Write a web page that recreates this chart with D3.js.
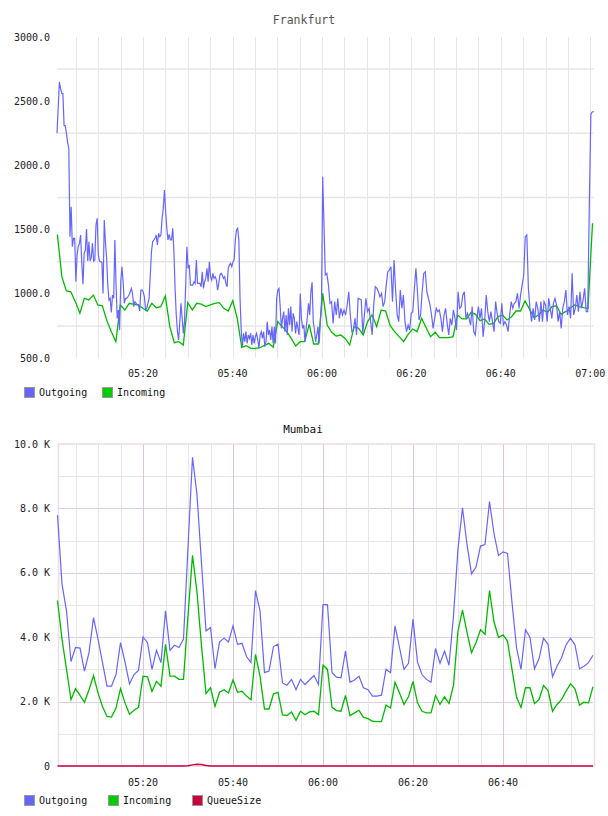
<!DOCTYPE html>
<html>
<head>
<meta charset="utf-8">
<script src="https://cdn.jsdelivr.net/npm/d3@7"></script>
<style>
body { margin: 0; background: #fff; }
text { font-family: "DejaVu Sans Mono", monospace; }
</style>
</head>
<body>
<svg id="chart" width="608" height="816"></svg>
<script>
// ---- data ----
var fraOutFirstHour = [2250,2450,2650,2600,2560,2560,2310,2310,2250,2180,2130,
  1445,1678,1367,1432,1432,1094,1302,1367,1393,1458,1237,1074,1315,1341,1504,1255,1406,1255,1281,1393,
  1255,1263,1536,1588,1302,1255,1250,1245,1003,1575,1406,1281,1068,952,965,855,990,965,1419,1068,
  809,874,718,1094,1211,1094,926,965,965,977,990,1016,1042,996,900,939,926,913,913,866,
  1029,1029,1016,977,874,887,926,965,1146,1328,1406,1419,1432,1458,1380,1471,1445,1458,1588,1666,
  1808,1640,1510,1419,1463,1419,1419,1510,1328,1042,835,705,640,783,926,809,692,783,1081,1367,
  1198,1224,1068,1068,1068,1094,1081,1263,1081,1081,1081,1055,1172,1042,1094,1120,1198,1094,1250,1133,
  1107,1159,1120,1133,1107,1029,1081,1146,1159,1146,1120,1133,1081,1055,1198,1224,1237,1211,1250,1263,
  1419,1497,1510,1419,965,718,588,692,627,705,614,679,653,692,601,679,614,666,692,640,
  575,679,705,653,705,588,627,783,679,718,640,744,614,744,614,965,1029,1042,900,731,
  809,861,705,835,679,887,757,900,705,848,809,692,783,731,679,1003,809,731,757,627,
  731,822,926,835,1016,1089,783,718,627,679,744,614,783,939,1912];
var fraOutSecondHour = [1146,1159,1068,926,939,770,939,835,965,809,887,835,874,835,913,1016,835,705,718,809,
  679,965,959,952,692,835,965,861,887,783,679,913,1055,1042,1016,977,1003,900,939,1068,
  1172,1185,1211,939,1263,1029,835,783,1029,887,990,783,705,757,718,848,861,1042,1198,1016,
  796,835,1016,1159,1172,1016,965,913,835,731,809,887,861,874,809,705,835,887,770,679,
  809,757,874,809,718,1016,887,900,990,1016,809,848,809,757,900,705,679,809,900,809,
  887,666,783,990,861,783,861,783,705,939,848,783,770,926,757,783,757,705,835,939,
  887,926,939,1003,887,990,1068,1146,1445,1458,1042,887,783,887,796,939,887,783,939,783,
  939,913,783,965,887,809,926,965,913,783,861,731,887,939,1029,835,900,809,1159,835,
  887,990,861,1016,887,952,1042,861,861,1700,2400,2418,2418];
var fraIn = [1463,1133,1022,1016,939,848,964,952,990,913,907,791,705,627,913,874,926,918,913,887,
  866,926,892,900,983,744,619,627,601,933,874,926,920,900,913,926,931,887,866,946,
  809,583,596,575,575,580,596,614,583,783,744,705,653,593,627,627,762,609,609,1003,
  757,700,671,679,653,601,744,731,679,783,835,744,874,866,752,705,666,627,684,726,
  705,809,736,666,700,658,658,658,666,835,804,804,855,840,791,804,762,770,822,835,
  796,822,866,866,944,881,814,835,874,855,900,907,840,861,887,913,900,892,887,1549];

var mumOut = [7790,5650,4820,3240,3680,3660,2950,3520,4610,3940,3210,2480,2480,2840,3830,3230,2550,2840,2970,4010,
  3830,3000,3590,3210,4820,3590,3750,3680,3940,6800,9590,8420,6300,4200,4300,3020,3850,3970,3850,4350,
  3780,3810,3400,3210,5450,4820,2900,2950,3710,3780,2580,2510,2690,2370,2690,2530,2670,2810,2530,5010,
  5010,2900,2760,2740,3570,2600,2670,2790,2430,2370,2170,2170,2200,3000,2900,4350,3680,3000,3190,4560,
  3230,2840,2690,2600,3650,3190,3570,3130,4670,6750,8020,6880,5970,6180,6830,6880,8210,7220,6540,6650,
  6600,5080,3680,3000,4230,3990,3020,3330,3970,3780,2770,3100,3360,3760,3970,3760,3020,3100,3210,3440];
var mumIn = [5140,3940,3000,2060,2400,2190,1980,2370,2810,2270,1850,1540,1520,1800,2400,1960,1610,1730,1820,2790,
  2770,2320,2630,2480,3780,2790,2790,2690,2690,4670,6540,5400,3730,2250,2430,1850,2290,2370,2270,2670,
  2290,2320,2170,2060,3470,2790,1770,1770,2240,2290,1590,1570,1680,1420,1700,1590,1680,1700,1590,3130,
  3000,1820,1720,1700,2190,1560,1650,1730,1510,1470,1390,1380,1380,1890,1800,2600,2270,1910,2150,2630,
  1960,1700,1650,1650,2190,1910,2150,1940,2500,4200,4840,4150,3520,3830,4230,4090,5450,4480,3990,4070,
  3880,3000,2140,1820,2430,2430,1940,2060,2500,2350,1700,1910,2060,2320,2550,2400,1890,1980,1960,2460];
var mumQueue = [0,0,0,0,0,0,0,0,0,0,0,0,0,0,0,0,0,0,0,0,
  0,0,0,0,0,0,0,0,0,10,35,55,45,15,0,0,0,0,0,0,
  0,0,0,0,0,0,0,0,0,0,0,0,0,0,0,0,0,0,0,0,
  0,0,0,0,0,0,0,0,0,0,0,0,0,0,0,0,0,0,0,0,
  0,0,0,0,0,0,0,0,0,0,0,0,0,0,0,0,0,0,0,0,
  0,0,0,0,0,0,0,0,0,0,0,0,0,0,0,0,0,0,0,0];

var fraTicks = ["05:20","05:40","06:00","06:20","06:40","07:00"];
var mumTicks = ["05:20","05:40","06:00","06:20","06:40"];
var fraYTicks = [3000,2500,2000,1500,1000,500];
var fraYGrid = [2750,2250,1750,1250,750];
var mumYTicks = [10000,8000,6000,4000,2000,0];

// ---- helpers ----
var parse = d3.timeParse("%H:%M:%S");
var hm = d3.timeParse("%H:%M");

var spread = function(values, from, to) {
    var t0 = parse(from), t1 = parse(to), n = values.length - 1;
    return values.map(function(v, i) {
        return {date: new Date(+t0 + (t1 - t0) * i / n), value: v};
    });
};

var svg = d3.select('#chart');
var blue = '#6666ff', green = '#00bb00', red = '#cc0040';

var drawLegend = function(y, items) {
    var g = svg.append('g').attr('transform', 'translate(0,' + y + ')');
    items.forEach(function(it) {
        g.append('rect')
            .attr('x', it.x + 0.5).attr('y', -4.5)
            .attr('width', 10).attr('height', 10)
            .attr('fill', it.color).attr('stroke', '#999');
        g.append('text')
            .attr('x', it.x + 15).attr('y', 0.5)
            .attr('dy', '0.35em')
            .attr('font-size', 10).attr('fill', '#111')
            .text(it.label);
    });
};

var lineOf = function(x, y) {
    return d3.line()
        .x(function(d) { return x(d.date); })
        .y(function(d) { return y(d.value); });
};

// ---- Frankfurt ----
(function() {
    var left = 57, right = 594, top = 37, bottom = 358;
    var x = d3.scaleTime()
        .domain([parse("05:00:45"), parse("07:00:50")])
        .range([left, right]);
    var y = d3.scaleLinear().domain([500, 3000]).range([bottom, top]);

    svg.append('text')
        .attr('x', 304).attr('y', 20).attr('dy', '0.35em')
        .attr('text-anchor', 'middle')
        .attr('font-size', 11.5).attr('fill', '#555')
        .text('Frankfurt');

    var grid = svg.append('g');
    d3.timeMinute.every(5).range(x.domain()[0], x.domain()[1]).forEach(function(t) {
        var px = Math.round(x(t)) + 0.5;
        grid.append('line')
            .attr('x1', px).attr('x2', px).attr('y1', top).attr('y2', bottom)
            .attr('stroke', '#e6e6e6');
    });
    fraYGrid.forEach(function(v) {
        grid.append('line')
            .attr('x1', left).attr('x2', right).attr('y1', y(v)).attr('y2', y(v))
            .attr('stroke', '#e6e6e6').attr('stroke-width', 1.5);
    });

    svg.selectAll('.fy').data(fraYTicks).enter().append('text')
        .attr('x', 50).attr('y', function(d) { return y(d); })
        .attr('dy', '0.35em').attr('text-anchor', 'end')
        .attr('font-size', 10).attr('fill', '#222')
        .text(function(d) { return d3.format('.1f')(d); });

    svg.selectAll('.fx').data(fraTicks).enter().append('text')
        .attr('x', function(d) { return x(hm(d)); }).attr('y', 373)
        .attr('dy', '0.35em').attr('text-anchor', 'middle')
        .attr('font-size', 10).attr('fill', '#222')
        .text(function(d) { return d; });

    var out = spread(fraOutFirstHour, "05:00:45", "06:00:10")
        .concat(spread(fraOutSecondHour, "06:00:45", "07:00:50"));
    var inc = spread(fraIn, "05:00:50", "07:00:30");
    var line = lineOf(x, y);

    svg.append('path').datum(inc)
        .attr('d', line).attr('fill', 'none')
        .attr('stroke', green).attr('stroke-width', 1.3);
    svg.append('path').datum(out)
        .attr('d', line).attr('fill', 'none')
        .attr('stroke', blue).attr('stroke-width', 1.2);

    drawLegend(392, [
        {x: 24, color: blue, label: 'Outgoing'},
        {x: 102, color: '#00cc00', label: 'Incoming'}
    ]);
})();

// ---- Mumbai ----
(function() {
    var left = 57.5, right = 593, top = 444, bottom = 766;
    var x = d3.scaleTime()
        .domain([parse("05:01:00"), parse("07:00:00")])
        .range([left, right]);
    var y = d3.scaleLinear().domain([0, 10000]).range([bottom, top]);
    var purple = '#e2cce2', gray = '#e6e6e6';

    svg.append('text')
        .attr('x', 303).attr('y', 429).attr('dy', '0.35em')
        .attr('text-anchor', 'middle')
        .attr('font-size', 11).attr('fill', '#111')
        .text('Mumbai');

    var grid = svg.append('g');
    d3.range(1000, 10000, 1000).forEach(function(v) {
        var py = Math.round(y(v)) + 0.5;
        grid.append('line')
            .attr('x1', left).attr('x2', right).attr('y1', py).attr('y2', py)
            .attr('stroke', v % 2000 === 0 ? purple : gray);
    });
    d3.timeMinute.every(5).range(x.domain()[0], x.domain()[1]).forEach(function(t) {
        var px = Math.round(x(t)) + 0.5;
        grid.append('line')
            .attr('x1', px).attr('x2', px).attr('y1', top).attr('y2', bottom)
            .attr('stroke', t.getMinutes() % 20 === 0 ? '#dcc4dc' : gray);
    });
    grid.append('rect')
        .attr('x', Math.round(left) + 0.5).attr('y', top)
        .attr('width', Math.round(right - left)).attr('height', bottom - top)
        .attr('fill', 'none').attr('stroke', '#ecdcec').attr('stroke-width', 1.5);

    svg.selectAll('.my').data(mumYTicks).enter().append('text')
        .attr('x', 50).attr('y', function(d) { return y(d); })
        .attr('dy', '0.35em').attr('text-anchor', 'end')
        .attr('font-size', 10).attr('fill', '#222')
        .text(function(d) { return d === 0 ? '0' : d3.format('.1f')(d / 1000) + ' K'; });

    svg.selectAll('.mx').data(mumTicks).enter().append('text')
        .attr('x', function(d) { return x(hm(d)); }).attr('y', 782)
        .attr('dy', '0.35em').attr('text-anchor', 'middle')
        .attr('font-size', 10).attr('fill', '#222')
        .text(function(d) { return d; });

    var line = lineOf(x, y);
    var series = [
        {values: mumOut, color: blue, w: 1.2},
        {values: mumIn, color: green, w: 1.3},
        {values: mumQueue, color: red, w: 1.5}
    ];
    series.forEach(function(s) {
        svg.append('path').datum(spread(s.values, "05:01:00", "07:00:00"))
            .attr('d', line).attr('fill', 'none')
            .attr('stroke', s.color).attr('stroke-width', s.w);
    });

    drawLegend(800, [
        {x: 24, color: blue, label: 'Outgoing'},
        {x: 108, color: '#00cc00', label: 'Incoming'},
        {x: 192, color: red, label: 'QueueSize'}
    ]);
})();
</script>
</body>
</html>
